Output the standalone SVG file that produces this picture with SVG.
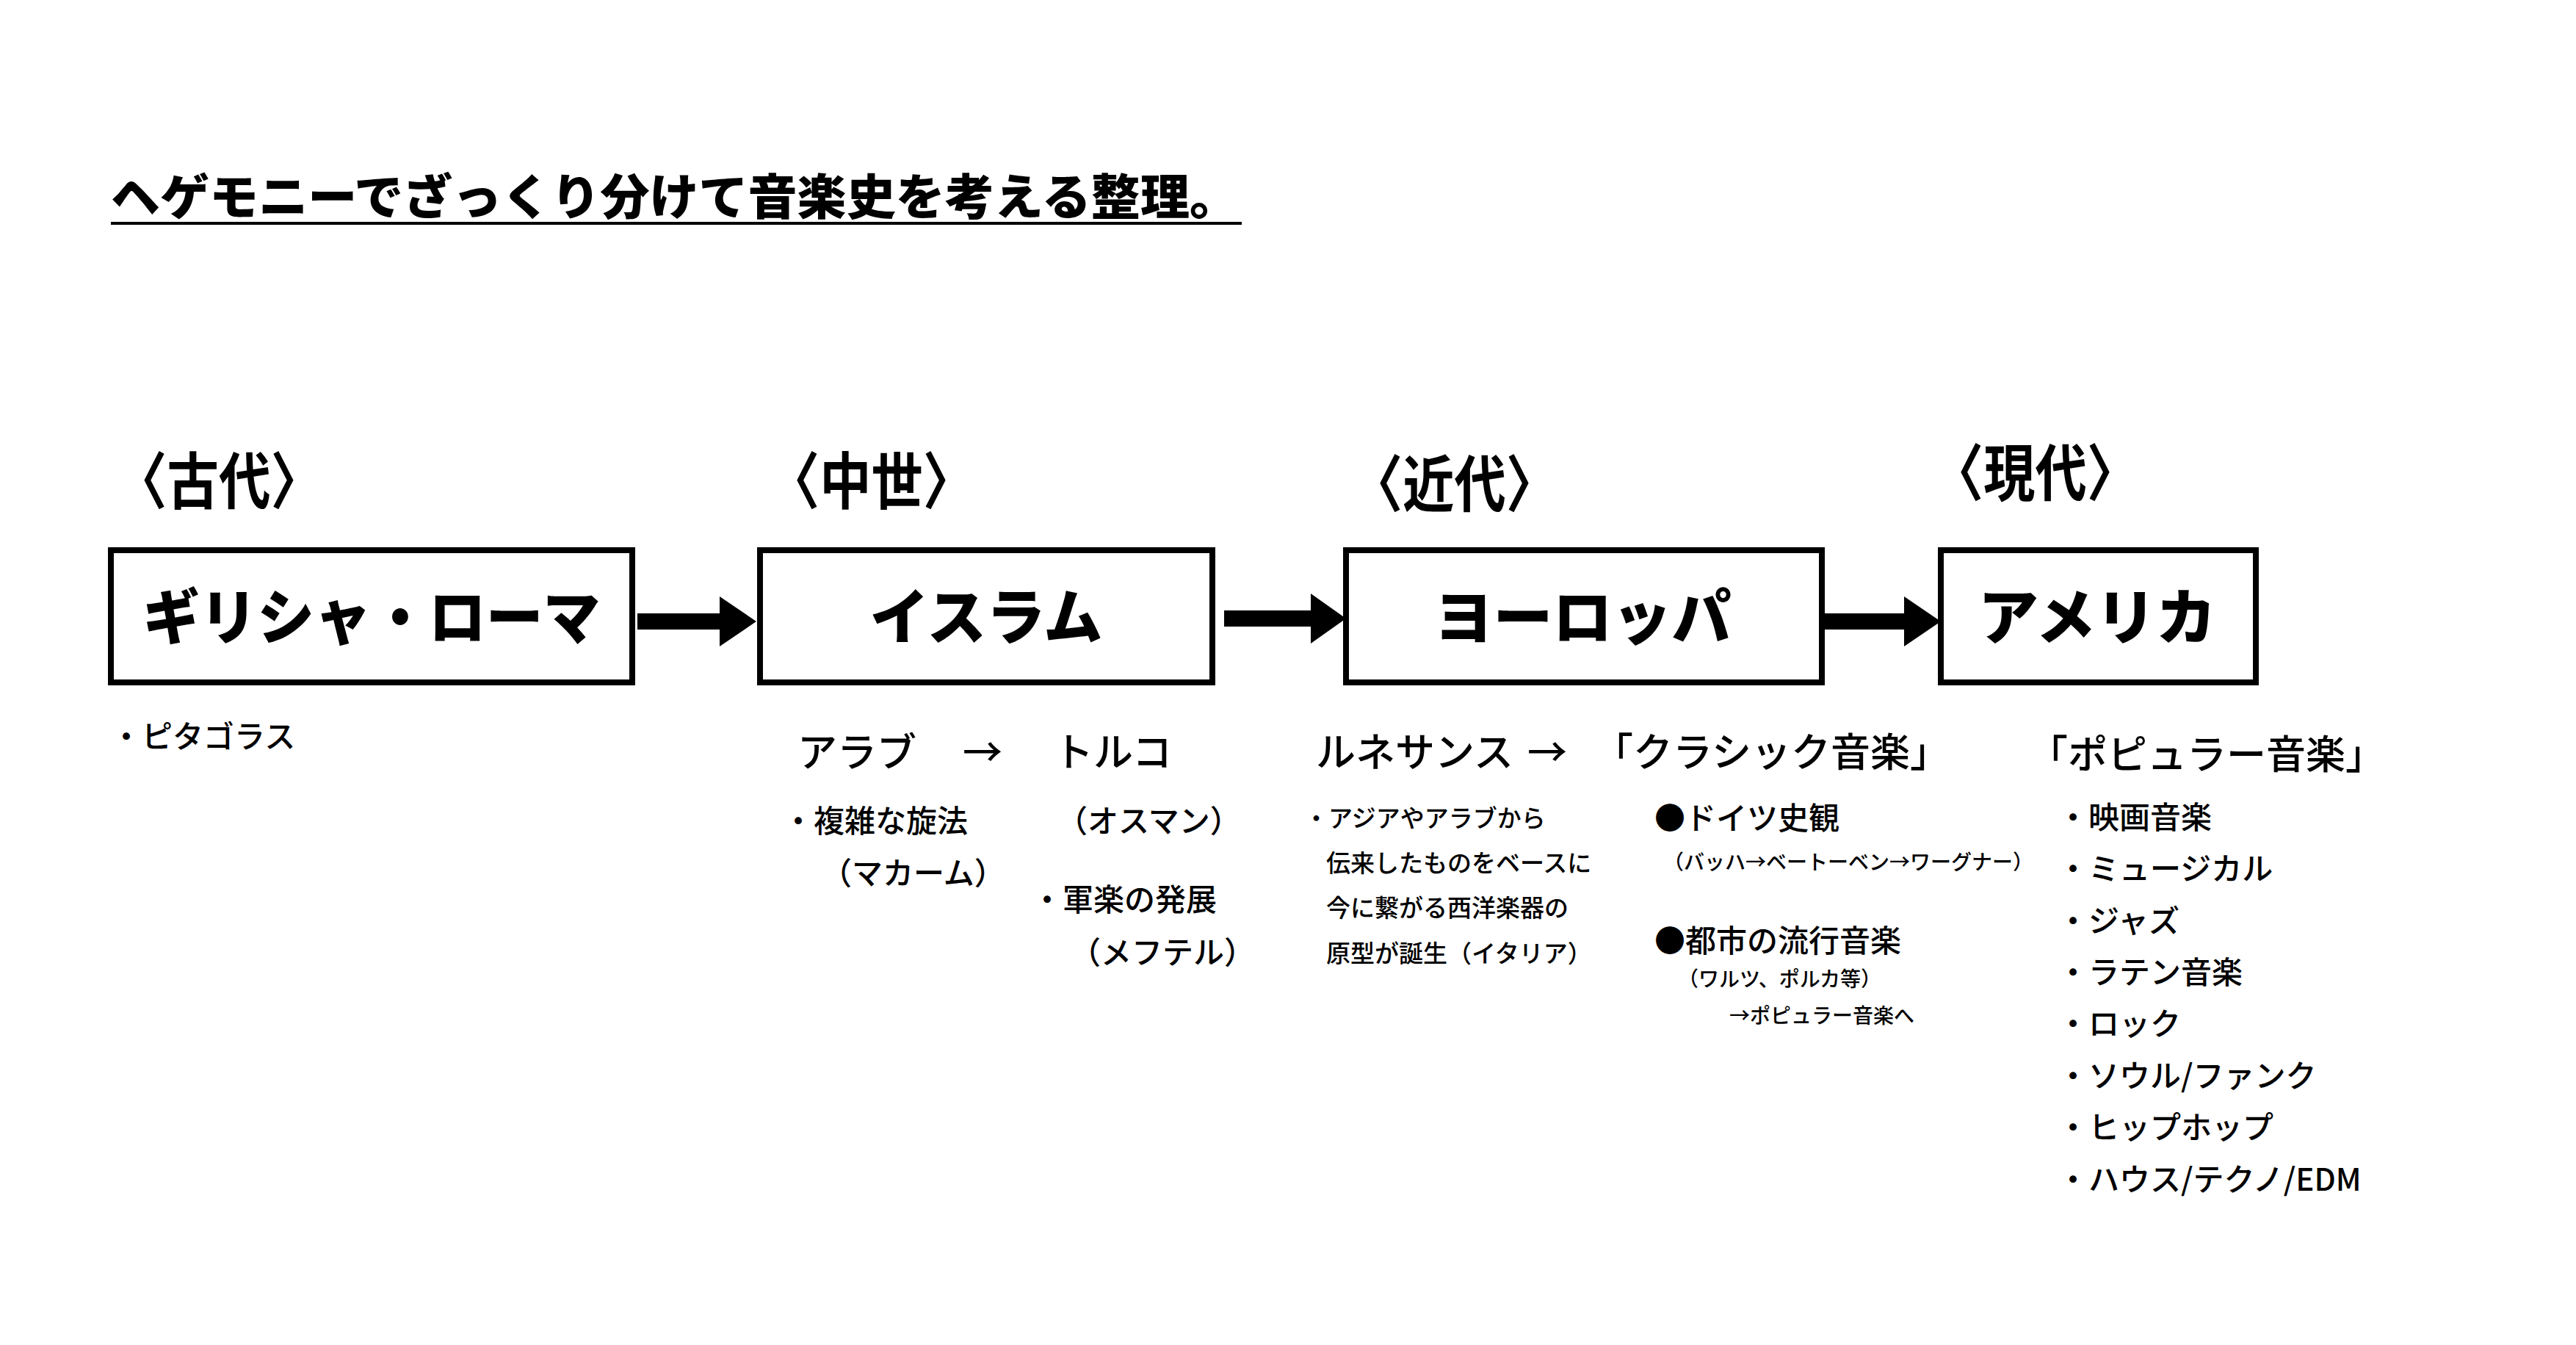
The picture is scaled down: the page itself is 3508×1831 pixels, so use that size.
<svg xmlns="http://www.w3.org/2000/svg" width="3508" height="1831" viewBox="0 0 3508 1831">
<style>
text{font-family:"Noto Sans CJK JP","Noto Sans",sans-serif;fill:#000}
.t{font-size:66px;font-weight:900}
.era{font-size:84px;font-weight:700}
.box{fill:#fff;stroke:#000;stroke-width:8}
.bt{font-size:82px;font-weight:900;text-anchor:middle}
.m{font-size:54px;font-weight:500}
.s{font-size:42px;font-weight:500}
.xs{font-size:33px;font-weight:500}
.xxs{font-size:28px;font-weight:500}
</style>
<rect width="3508" height="1831" fill="#fff"/>
<text class="t" x="151" y="292" textLength="1536" lengthAdjust="spacingAndGlyphs">ヘゲモニーでざっくり分けて音楽史を考える整理。</text>
<line x1="151" y1="304" x2="1691" y2="304" stroke="#000" stroke-width="4"/>
<text class="era" x="157" y="686" textLength="282" lengthAdjust="spacingAndGlyphs">〈古代〉</text>
<text class="era" x="1046" y="686" textLength="281" lengthAdjust="spacingAndGlyphs">〈中世〉</text>
<text class="era" x="1840" y="690" textLength="281" lengthAdjust="spacingAndGlyphs">〈近代〉</text>
<text class="era" x="2631" y="675" textLength="281" lengthAdjust="spacingAndGlyphs">〈現代〉</text>
<g id="connectors">
<path d="M868 835H980V812L1030 846L980 880V857H868Z"/>
<path d="M1667 831H1785V808L1833 842L1785 876V853H1667Z"/>
<path d="M2483 835H2593V812L2643 846L2593 880V857H2483Z"/>
</g>
<g id="n1"><rect class="box" x="151" y="749" width="710" height="180"/><text class="bt" x="506" y="870" textLength="623" lengthAdjust="spacingAndGlyphs">ギリシャ・ローマ</text></g>
<g id="n2"><rect class="box" x="1035" y="749" width="616" height="180"/><text class="bt" x="1343" y="870" textLength="317" lengthAdjust="spacingAndGlyphs">イスラム</text></g>
<g id="n3"><rect class="box" x="1833" y="749" width="648" height="180"/><text class="bt" x="2155" y="870" textLength="405" lengthAdjust="spacingAndGlyphs">ヨーロッパ</text></g>
<g id="n4"><rect class="box" x="2643" y="749" width="429" height="180"/><text class="bt" x="2856" y="870" textLength="324" lengthAdjust="spacingAndGlyphs">アメリカ</text></g>
<text class="s" x="151" y="1018">・ピタゴラス</text>
<text class="m" x="1086" y="1044">アラブ</text>
<text class="m" x="1311" y="1044">→</text>
<text class="m" x="1435" y="1044">トルコ</text>
<text class="s" x="1066" y="1133">・複雑な旋法</text>
<text class="s" x="1118" y="1204">（マカーム）</text>
<text class="s" x="1439" y="1133">（オスマン）</text>
<text class="s" x="1405" y="1240">・軍楽の発展</text>
<text class="s" x="1457" y="1312">（メフテル）</text>
<text class="m" x="1792" y="1044">ルネサンス</text>
<text class="m" x="2080" y="1044">→</text>
<text class="m" x="2170" y="1044">「クラシック音楽」</text>
<text class="xs" x="1776" y="1126">・アジアやアラブから</text>
<text class="xs" x="1806" y="1187">伝来したものをベースに</text>
<text class="xs" x="1806" y="1248">今に繋がる西洋楽器の</text>
<text class="xs" x="1806" y="1310">原型が誕生（イタリア）</text>
<text class="s" x="2253" y="1129">●ドイツ史観</text>
<text class="xxs" x="2265" y="1184">（バッハ→ベートーベン→ワーグナー）</text>
<text class="s" x="2253" y="1296">●都市の流行音楽</text>
<text class="xxs" x="2285" y="1343">（ワルツ、ポルカ等）</text>
<text class="xxs" x="2355" y="1393">→ポピュラー音楽へ</text>
<text class="m" x="2762" y="1047" font-size="60">「ポピュラー音楽」</text>
<g class="s">
<text class="s" x="2802" y="1128">・映画音楽</text>
<text class="s" x="2802" y="1198">・ミュージカル</text>
<text class="s" x="2802" y="1269">・ジャズ</text>
<text class="s" x="2802" y="1339">・ラテン音楽</text>
<text class="s" x="2802" y="1409">・ロック</text>
<text class="s" x="2802" y="1480">・ソウル/ファンク</text>
<text class="s" x="2802" y="1550">・ヒップホップ</text>
<text class="s" x="2802" y="1621">・ハウス/テクノ/EDM</text>
</g>
</svg>
